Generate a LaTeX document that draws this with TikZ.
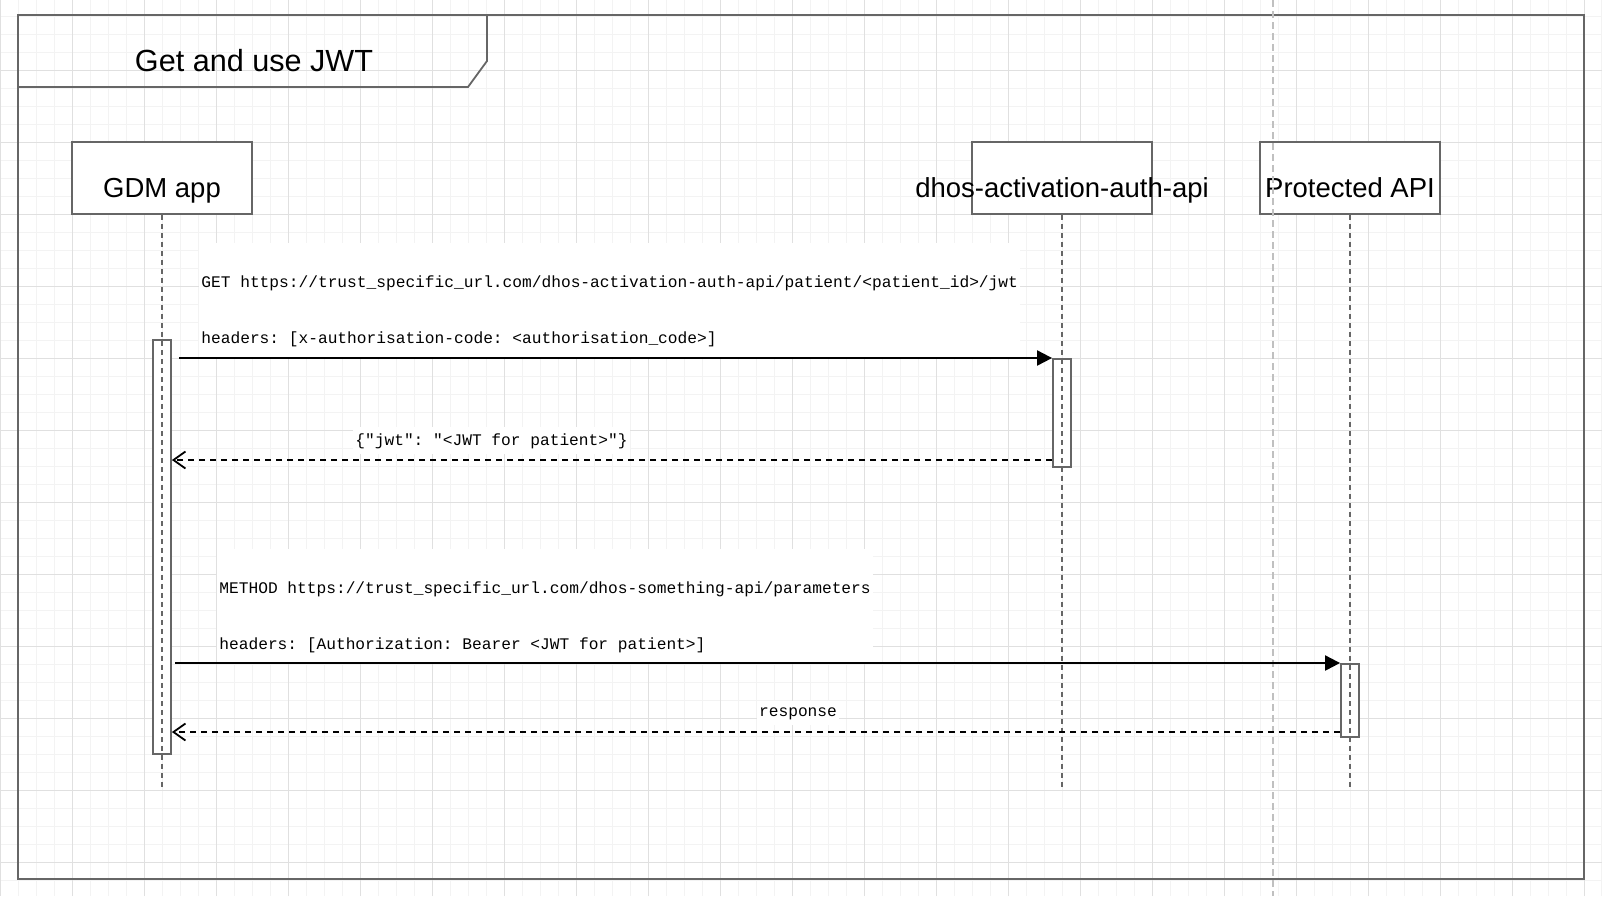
\documentclass[tikz,border=0pt]{standalone}
\usepackage{fontspec}
\setmainfont{Liberation Sans}
\setmonofont{Liberation Mono}
\usetikzlibrary{arrows.meta}

\definecolor{linegray}{RGB}{102,102,102}
\definecolor{gridmajor}{RGB}{224,224,224}
\definecolor{gridminor}{RGB}{243,243,243}
\definecolor{breakgray}{RGB}{192,192,192}

\newcommand{\titlefont}{\fontsize{15.3pt}{18pt}\selectfont}
\newcommand{\actorfont}{\fontsize{13.75pt}{16pt}\selectfont}
\newcommand{\msgfont}{\fontsize{8.1pt}{14pt}\selectfont\ttfamily}

\begin{document}
\begin{tikzpicture}[x=0.5pt,y=-0.5pt,
        actor/.style={draw=linegray,line width=0.9pt,fill=white,minimum width=90pt,minimum height=36pt,inner sep=0pt},
        actorname/.style={anchor=base,font=\actorfont,inner sep=0pt},
        lifeline/.style={draw=linegray,line width=0.9pt,dash pattern=on 2.5pt off 2pt},
        act/.style={draw=linegray,line width=0.9pt,fill=white,minimum width=9pt,inner sep=0pt,anchor=north},
        call/.style={draw=black,line width=1pt,-{Triangle[length=7.5pt,width=7.5pt]}},
        reply/.style={draw=black,line width=0.9pt,dash pattern=on 3pt off 2.5pt,-{Straight Barb[length=6pt,width=8.5pt]}},
        msg/.style={font=\msgfont,fill=white,inner xsep=1pt,inner ysep=0pt,align=left}]
        \useasboundingbox (0,0) rectangle (1602,896);

        % background grid
        \begin{scope}[yshift=1pt]
            \draw[gridminor,line width=0.5pt,step=9pt] (0pt,0pt) grid (801pt,-449pt);
            \draw[gridmajor,line width=0.5pt,step=36pt] (0pt,0pt) grid (801pt,-449pt);
        \end{scope}

        % frame
        \draw[linegray,line width=0.9pt] (18,15) rectangle (1584,879);
        \draw[linegray,line width=0.9pt] (18,87) -- (468,87) -- (487,61) -- (487,15);
        \node[anchor=base,font=\titlefont,inner sep=0pt] at (254,71) (title) {Get and use JWT};

        % participants
        \node[actor] at (162,178) (gdm) {};
        \node[actor] at (1062,178) (auth) {};
        \node[actor] at (1350,178) (api) {};
        \node[actorname] at (162,197) (gdmname) {GDM app};
        \node[actorname] at (1062,197) (authname) {dhos-activation-auth-api};
        \node[actorname] at (1350,197) (apiname) {Protected API};

        \node[act,minimum height=207pt] at (162,339) (gdmact) {};
        \node[act,minimum height=54pt] at (1062,358) (authact) {};
        \node[act,minimum height=36.5pt] at (1350,663) (apiact) {};

        \coordinate (gdmend) at (162,790);
        \coordinate (authend) at (1062,790);
        \coordinate (apiend) at (1350,790);
        \draw[lifeline] (gdm.south) -- (gdmend);
        \draw[lifeline] (auth.south) -- (authend);
        \draw[lifeline] (api.south) -- (apiend);

        % page break
        \draw[breakgray,line width=0.8pt,dash pattern=on 3.5pt off 2pt] (1273,0) -- (1273,896);

        % labels
        \node[msg,anchor=north west] at (199,243) (getlbl) {\rule{0pt}{22pt}GET https://trust\_specific\_url.com/dhos-activation-auth-api/patient/<patient\_id>/jwt\\[14pt]headers: [x-authorisation-code: <authorisation\_code>]\rule[-7pt]{0pt}{7pt}};
        \node[msg,anchor=base west,inner ysep=3pt] at (353,445) (jwtlbl) {\{"jwt": "<JWT for patient>"\}};
        \node[msg,anchor=north west] at (217,549) (methodlbl) {\rule{0pt}{22pt}METHOD https://trust\_specific\_url.com/dhos-something-api/parameters\\[14pt]headers: [Authorization: Bearer <JWT for patient>]\rule[-7pt]{0pt}{7pt}};
        \node[msg,anchor=base,inner ysep=3pt] at (798,716) (resplbl) {response};

        % messages
        \coordinate (getfrom) at (179,358);
        \coordinate (methodfrom) at (175,663);
        \coordinate (jwtrow) at (0,460);
        \coordinate (resprow) at (0,732);
        \draw[call] (getfrom) -- (authact.north west);
        \draw[reply] (authact.west |- jwtrow) -- (gdmact.east |- jwtrow);
        \draw[call] (methodfrom) -- (apiact.north west);
        \draw[reply] (apiact.west |- resprow) -- (gdmact.east |- resprow);
    \end{tikzpicture}
\end{document}
